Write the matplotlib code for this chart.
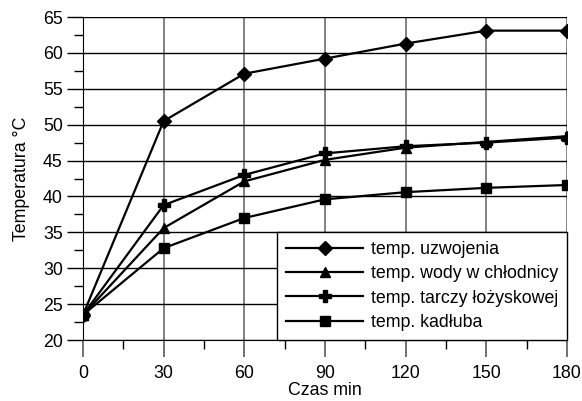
import numpy as np
import matplotlib.pyplot as plt
from matplotlib.ticker import MultipleLocator

plt.rcParams['font.family'] = ['Liberation Sans', 'DejaVu Sans']

czas = [0, 30, 60, 90, 120, 150, 180]
uzwojenie = [23.5, 50.5, 57.1, 59.2, 61.3, 63.1, 63.1]
woda = [23.5, 35.6, 42.1, 45.1, 46.8, 47.6, 48.4]
tarcza = [23.5, 38.8, 43.0, 46.0, 47.0, 47.5, 48.2]
kadlub = [23.5, 32.8, 37.0, 39.6, 40.6, 41.2, 41.6]

labels = ["temp. uzwojenia", "temp. wody w chłodnicy",
          "temp. tarczy łożyskowej", "temp. kadłuba"]

fs = 12.8

fig = plt.figure(figsize=(5.82, 4.01), dpi=100)
ax = fig.add_axes([0.1426, 0.152, 0.8314, 0.8056])

series = [uzwojenie, woda, tarcza, kadlub]
markers = ['D', '^', 'P', 's']
sizes = [7, 7, 8, 7]
for y, m, s, lab in zip(series, markers, sizes, labels):
    ax.plot(czas, y, color='black', lw=1.6, marker=m, ms=s, label=lab, zorder=3)

ax.set_xlim(0, 180)
ax.set_ylim(20, 65)
ax.xaxis.set_major_locator(MultipleLocator(30))
ax.xaxis.set_minor_locator(MultipleLocator(15))
ax.yaxis.set_major_locator(MultipleLocator(5))
ax.yaxis.set_minor_locator(MultipleLocator(2.5))
ax.tick_params(which='major', direction='out', length=11.5, width=1, labelsize=fs,
               color='black', pad=3)
ax.tick_params(which='minor', direction='out', length=6.5, width=1, color='black')
ax.tick_params(axis='x', which='major', length=12, pad=6, color='#666666', width=1.3)

ax.grid(axis='y', which='major', color='black', lw=1)
ax.grid(axis='x', which='major', color='#777777', lw=1.3)

for side in ['top', 'right']:
    ax.spines[side].set_visible(False)
ax.spines['left'].set_color('black')
ax.spines['bottom'].set_color('black')

ax.set_xlabel("Czas min", fontsize=fs, labelpad=0)
ax.set_ylabel("Temperatura °C", fontsize=fs, labelpad=9)

leg = ax.legend(loc='lower right', bbox_to_anchor=(1, 0), borderaxespad=0,
                fancybox=False, edgecolor='black', fontsize=fs,
                handlelength=4.3, handletextpad=0.45, framealpha=1,
                borderpad=0.5, labelspacing=0.42)
leg.get_frame().set_linewidth(1)

fig.savefig('out.png', dpi=100)
